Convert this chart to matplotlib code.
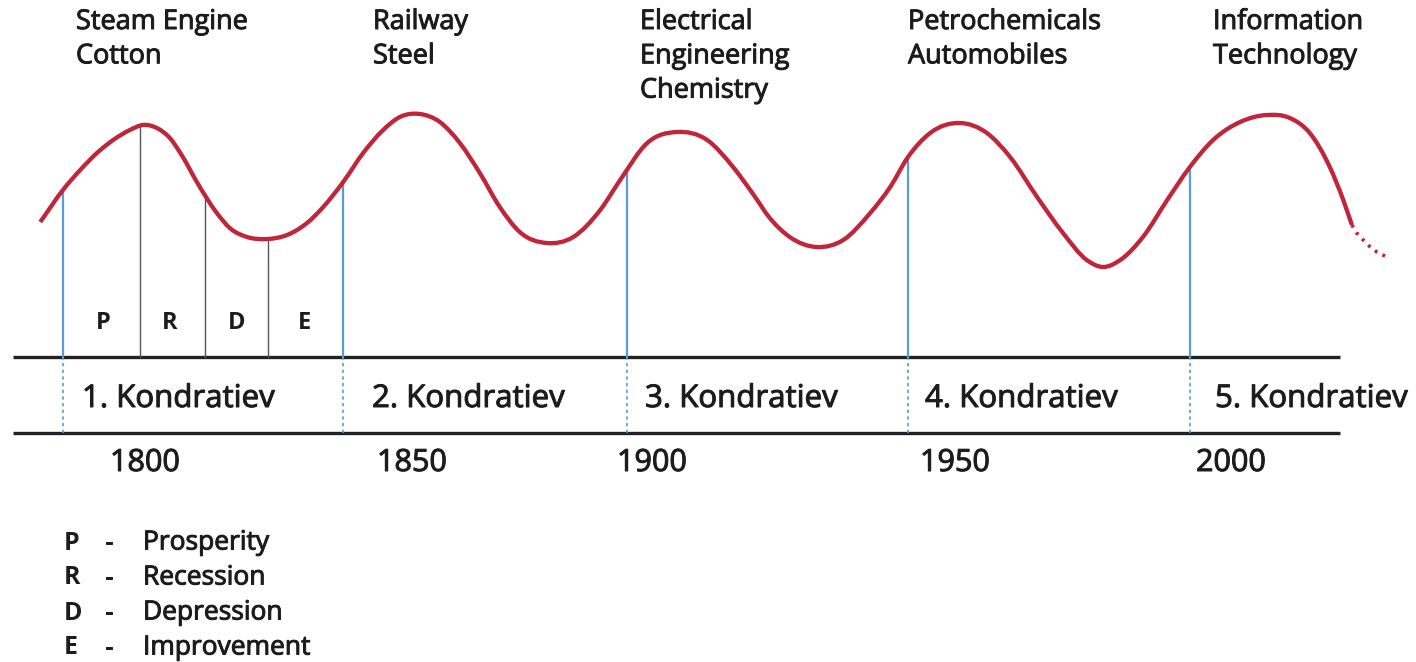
import numpy as np
import matplotlib
matplotlib.use("Agg")
import matplotlib.pyplot as plt
from matplotlib.path import Path
from matplotlib.patches import PathPatch
import matplotlib.patheffects as pe

plt.rcParams['font.family'] = ['Open Sans', 'DejaVu Sans']

# curve of economic activity (year, level)
years = [1780.6, 1784.8, 1788.0, 1791.1, 1794.1, 1797.2, 1799.6, 1802.2, 1804.6, 1807.0,
         1809.6, 1813.3, 1815.7, 1818.9, 1822.6, 1826.3, 1830.0, 1833.0, 1836.7,
         1840.4, 1844.1, 1847.2, 1850.9, 1854.6, 1858.3, 1862.0, 1865.7, 1869.4, 1874.4,
         1879.3, 1884.3, 1888.0, 1893.0, 1898.5, 1904.1, 1908.9, 1912.6, 1915.7,
         1919.4, 1924.4, 1929.3, 1934.3, 1938.0, 1941.3, 1945.4, 1950.9, 1955.9, 1960.2,
         1965.2, 1970.0, 1974.4, 1977.4, 1980.6, 1984.8, 1989.3, 1993.5, 1997.8, 2002.8,
         2007.8, 2012.0, 2015.7, 2019.4, 2021.9, 2023.5]
level = [78, 110, 130, 147, 160, 170, 175, 172, 162, 143,
         118, 87, 72, 63, 61, 65, 77, 93, 118,
         147, 170, 183, 186, 178, 157, 127, 93, 68, 57,
         63, 90, 120, 157, 168, 160, 133, 106, 82,
         63, 53, 60, 87, 113, 143, 167, 177, 167, 143,
         103, 67, 40, 33, 40, 63, 100, 133, 160, 178,
         185, 182, 167, 133, 100, 75]
# dotted continuation
future_years = [2023.5, 2024.4, 2025.6, 2026.9, 2028.1, 2030.0]
future_level = [75, 67, 60, 53, 48, 43]

cycle_start = [1784.8, 1836.7, 1889.3, 1941.3, 1993.5]
cycle_names = ["1. Kondratiev", "2. Kondratiev", "3. Kondratiev", "4. Kondratiev", "5. Kondratiev"]
innovations = ["Steam Engine\nCotton", "Railway\nSteel", "Electrical\nEngineering\nChemistry",
               "Petrochemicals\nAutomobiles", "Information\nTechnology"]
year_labels = ["1800", "1850", "1900", "1950", "2000"]

# phases of the first cycle
phase_bounds = [1799.1, 1811.1, 1822.8]
phase_letters = ["P", "R", "D", "E"]
phase_names = ["Prosperity", "Recession", "Depression", "Improvement"]

W, H = 1416, 662
fig = plt.figure(figsize=(W / 100, H / 100), dpi=100)
ax = fig.add_axes([0, 0, 1, 1])
# x: year -> pixel 145 + 5.4*(year-1800); y: level = 300 - pixel row
x0 = 1800 - 145 / 5.4
ax.set_xlim(x0, x0 + W / 5.4)
ax.set_ylim(300 - H, 300)
ax.axis('off')


def px(x, y):
    return x / W, 1 - y / H


def smooth_path(xs, ys):
    # cubic bezier through the points, tangents from neighbouring slopes
    x = np.asarray(xs, float)
    y = np.asarray(ys, float)
    h = np.diff(x)
    d = np.diff(y) / h
    m = np.empty_like(x)
    m[0], m[-1] = d[0], d[-1]
    m[1:-1] = (d[:-1] * h[1:] + d[1:] * h[:-1]) / (h[:-1] + h[1:])
    verts = [(x[0], y[0])]
    codes = [Path.MOVETO]
    for i in range(len(x) - 1):
        verts += [(x[i] + h[i] / 3, y[i] + m[i] * h[i] / 3),
                  (x[i + 1] - h[i] / 3, y[i + 1] - m[i + 1] * h[i] / 3),
                  (x[i + 1], y[i + 1])]
        codes += [Path.CURVE4] * 3
    return Path(verts, codes)


red = '#c0263a'
blue = '#5b9bd5'
ink = '#1c1c1c'
band_top, band_bot = -57, -133
bold_fx = [pe.withStroke(linewidth=0.7, foreground=ink)]

ax.add_patch(PathPatch(smooth_path(years, level), fill=False, edgecolor=red, lw=3.1,
                       joinstyle='round', capstyle='butt', zorder=5))
ax.plot(future_years, future_level, color=red, lw=2.6, ls=(0, (0.8, 1.6)), zorder=5)

for yr in cycle_start:
    top = np.interp(yr, years, level)
    ax.plot([yr, yr], [band_top, top], color=blue, lw=1.6, zorder=3)
    ax.plot([yr, yr], [band_bot, band_top], color=blue, lw=1.2, ls=(0, (2, 2)), zorder=3)

for yr in phase_bounds:
    top = np.interp(yr, years, level)
    ax.plot([yr, yr], [band_top, top], color='#555555', lw=1.0, zorder=3)

band_x = [1800 + (13 - 145) / 5.4, 1800 + (1340 - 145) / 5.4]
ax.plot(band_x, [band_top, band_top], color='#222222', lw=2.4, solid_capstyle='butt')
ax.plot(band_x, [band_bot, band_bot], color='#222222', lw=2.4, solid_capstyle='butt')

# texts
tech_x = [76, 373, 640, 908, 1213]
for x, t in zip(tech_x, innovations):
    fig.text(*px(x, 8), t, ha='left', va='top', fontsize=19.5, color=ink,
             linespacing=1.3, path_effects=bold_fx)

name_x = [82, 372, 645, 925, 1215]
for x, t in zip(name_x, cycle_names):
    fig.text(*px(x, 399), t, ha='left', va='center', fontsize=22.5, color=ink, path_effects=bold_fx)

yl_x = [110, 377, 617, 920, 1196]
for x, t in zip(yl_x, year_labels):
    fig.text(*px(x, 463), t, ha='left', va='center', fontsize=22, color=ink, path_effects=bold_fx)

letter_x = [103, 170, 237, 304]
for x, t in zip(letter_x, phase_letters):
    fig.text(*px(x, 323), t, ha='center', va='center', fontsize=17, fontweight='bold', color=ink)

for i, (l, n) in enumerate(zip(phase_letters, phase_names)):
    yy = 543 + 35 * i
    fig.text(*px(64, yy), l, ha='left', va='center', fontsize=18, fontweight='bold', color=ink)
    fig.text(*px(105, yy), "-", ha='left', va='center', fontsize=18, color=ink, path_effects=bold_fx)
    fig.text(*px(143, yy), n, ha='left', va='center', fontsize=19, color=ink, path_effects=bold_fx)

fig.savefig("out.png", dpi=100, facecolor='white')
